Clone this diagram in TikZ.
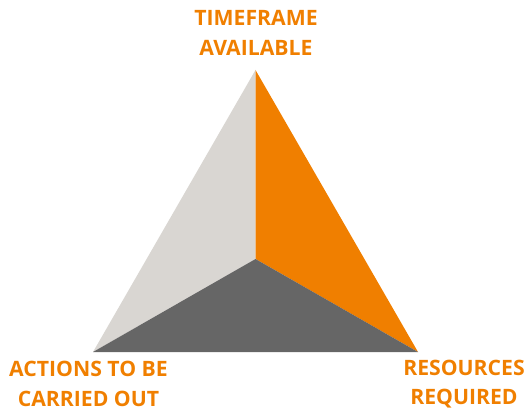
\documentclass[tikz,border=0pt]{standalone}
\usepackage{fontspec}
\setmainfont{Open Sans}
\usepackage{xcolor}
\usepackage{tikz}
\usetikzlibrary{positioning}
\definecolor{tfOrange}{HTML}{F07F00}
\definecolor{tfLight}{HTML}{D9D6D2}
\definecolor{tfDark}{HTML}{666666}
\tikzset{
  tf diagram/.style={x=1pt, y=-1pt, line join=round},
  tf label/.style={font=\fontsize{21.2}{29.5}\selectfont\bfseries, text=tfOrange,
    align=center, inner sep=0pt}
}
\begin{document}
\begin{tikzpicture}[tf diagram]
\useasboundingbox (0,0) rectangle (526,411);
\coordinate (apex) at (255.5,70);
\coordinate (left) at (93,352);
\coordinate (right) at (418,352);
\coordinate (mid) at (255.5,259);
% the three faces
\fill[tfLight] (apex) -- (mid) -- (left) -- cycle;
\fill[tfOrange] (apex) -- (right) -- (mid) -- cycle;
\fill[tfDark] (mid) -- (right) -- (left) -- cycle;
\node[tf label] (timeframe) at (256,33) {TIMEFRAME\\AVAILABLE};
\node[tf label] (actions) at (88.5,384) {ACTIONS TO BE\\CARRIED OUT};
\node[tf label] (resources) at (464,384) {RESOURCES\\REQUIRED};
\end{tikzpicture}
\end{document}
